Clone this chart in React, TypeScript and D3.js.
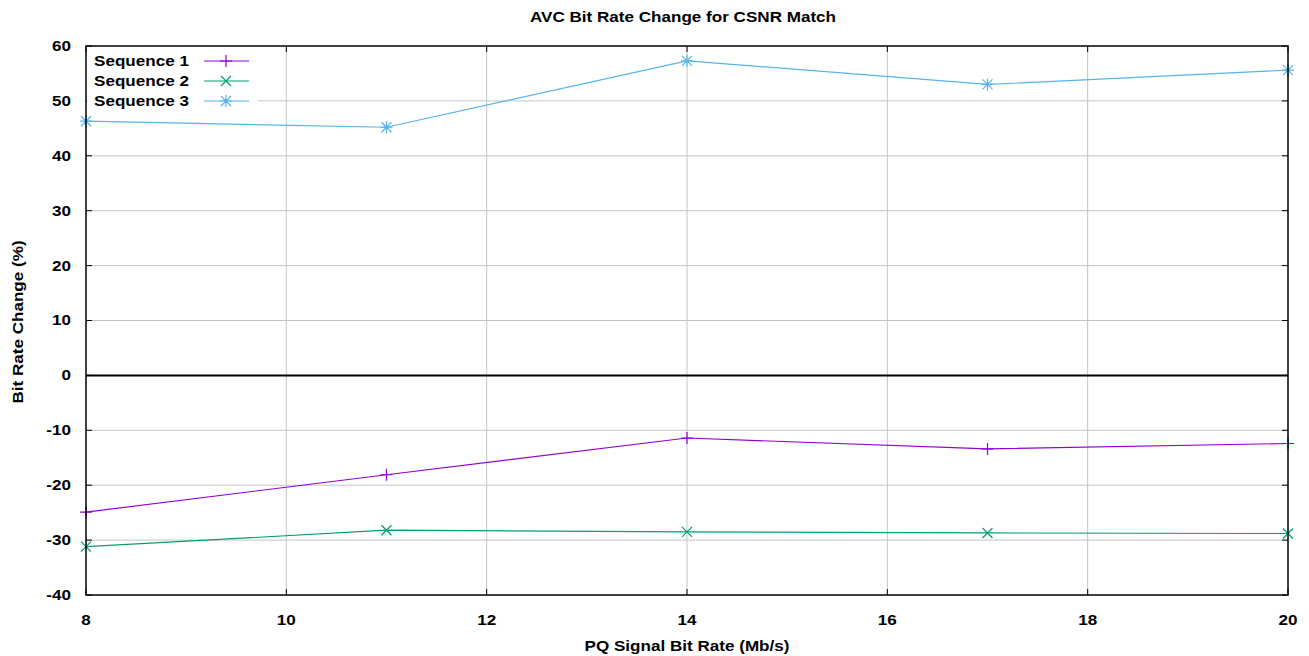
import React from "react";
import * as d3 from "d3";

const xValues = [8, 11, 14, 17, 20];
const seq1 = [-24.9, -18.1, -11.4, -13.4, -12.4];
const seq2 = [-31.2, -28.2, -28.5, -28.7, -28.8];
const seq3 = [46.3, 45.2, 57.3, 53.0, 55.6];
const seriesNames = ["Sequence 1", "Sequence 2", "Sequence 3"];
const seriesColors = ["#9400d3", "#009e73", "#56b4e9"];
const seriesMarkers = ["plus", "cross", "star"];
const xTicks = [8, 10, 12, 14, 16, 18, 20];
const yTicks = [-40, -30, -20, -10, 0, 10, 20, 30, 40, 50, 60];

const W = 1309, H = 656;
const L = 86, R = 1288, T = 46, B = 595;
const FONT = "'Liberation Sans', Arial, sans-serif";
const SX = 1.22;

function T2({ x, y, anchor, size = 14, children, rotate = false }: any) {
  const tr = rotate
    ? `translate(${x},${y}) rotate(-90) scale(${SX},1)`
    : `translate(${x},${y}) scale(${SX},1)`;
  return (
    <text transform={tr} textAnchor={anchor} fontSize={size} fontWeight="bold" dy="0.35em">
      {children}
    </text>
  );
}

function Marker({ type, x, y, color }: { type: string; x: number; y: number; color: string }) {
  const s = 6;
  const d = 5;
  const plus = `M${x - s},${y}H${x + s}M${x},${y - s}V${y + s}`;
  const cross = `M${x - d},${y - d}L${x + d},${y + d}M${x - d},${y + d}L${x + d},${y - d}`;
  const p = type === "plus" ? plus : type === "cross" ? cross : plus + cross;
  return <path d={p} stroke={color} strokeWidth={1.2} fill="none" />;
}

export default function App() {
  const x = d3.scaleLinear().domain([8, 20]).range([L, R]);
  const y = d3.scaleLinear().domain([-40, 60]).range([B, T]);
  const all = [seq1, seq2, seq3];
  const line = d3.line<number>().x((_, i) => x(xValues[i])).y((v) => y(v));

  return (
    <svg width={W} height={H} style={{ position: "absolute", left: 0, top: 0 }} fontFamily={FONT}>
      <rect width={W} height={H} fill="#fff" />
      {xTicks.slice(1, -1).map((t) => (
        <line key={"gx" + t} x1={x(t)} x2={x(t)} y1={T} y2={B} stroke="#c4c4c4" strokeWidth={1} />
      ))}
      {yTicks.slice(1, -1).filter((t) => t !== 0).map((t) => (
        <line key={"gy" + t} x1={L} x2={R} y1={y(t)} y2={y(t)} stroke="#c4c4c4" strokeWidth={1} />
      ))}
      <line x1={L} x2={R} y1={y(0)} y2={y(0)} stroke="#000" strokeWidth={2} />
      {yTicks.map((t) => (
        <g key={"ty" + t}>
          <line x1={L} x2={L + 6} y1={y(t)} y2={y(t)} stroke="#000" />
          <line x1={R - 6} x2={R} y1={y(t)} y2={y(t)} stroke="#000" />
          <T2 x={71} y={y(t)} anchor="end">{t}</T2>
        </g>
      ))}
      {xTicks.map((t) => (
        <g key={"tx" + t}>
          <line x1={x(t)} x2={x(t)} y1={B} y2={B - 6} stroke="#000" />
          <line x1={x(t)} x2={x(t)} y1={T} y2={T + 6} stroke="#000" />
          <T2 x={x(t)} y={620} anchor="middle">{t}</T2>
        </g>
      ))}
      <rect x={L + 1} y={T + 1} width={171} height={65} fill="#fff" />
      {all.map((s, i) => (
        <g key={"s" + i}>
          <path d={line(s) || ""} fill="none" stroke={seriesColors[i]} strokeWidth={1.2} />
          {s.map((v, j) => (
            <Marker key={j} type={seriesMarkers[i]} x={x(xValues[j])} y={y(v)} color={seriesColors[i]} />
          ))}
        </g>
      ))}
      {seriesNames.map((n, i) => {
        const ly = 61 + i * 20;
        return (
          <g key={"l" + i}>
            <T2 x={94} y={ly} anchor="start">{n}</T2>
            <line x1={204} x2={249} y1={ly} y2={ly} stroke={seriesColors[i]} strokeWidth={1.2} />
            <Marker type={seriesMarkers[i]} x={226} y={ly} color={seriesColors[i]} />
          </g>
        );
      })}
      <rect x={L} y={T} width={R - L} height={B - T} fill="none" stroke="#000" strokeWidth={1.5} />
      <T2 x={683} y={17} anchor="middle">AVC Bit Rate Change for CSNR Match</T2>
      <T2 x={(L + R) / 2} y={646} anchor="middle">PQ Signal Bit Rate (Mb/s)</T2>
      <T2 x={18} y={322} anchor="middle" rotate>Bit Rate Change (%)</T2>
    </svg>
  );
}
